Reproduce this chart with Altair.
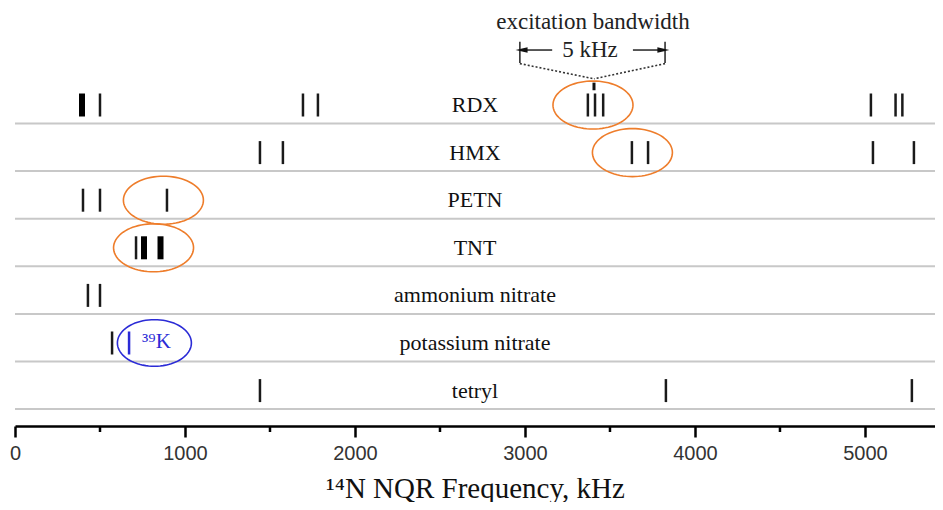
import altair as alt
import numpy as np
import pandas as pd

# ---------------- data ----------------
rows = ["RDX", "HMX", "PETN", "TNT", "ammonium nitrate", "potassium nitrate", "tetryl"]
rdx = [394, 500, 1694, 1782, 3370, 3412, 3460, 5035, 5180, 5220]
hmx = [1441, 1576, 3629, 3724, 5047, 5288]
petn = [400, 500, 894]
tnt = [712, 759, 856]
ammonium_nitrate = [429, 500]
potassium_nitrate = [571, 671]
tetryl = [1441, 3829, 5276]
line_sets = [rdx, hmx, petn, tnt, ammonium_nitrate, potassium_nitrate, tetryl]

strong_lines = {"RDX": [394], "TNT": [759, 856]}
k39_lines = {"potassium nitrate": [671]}

highlight_rows = ["RDX", "HMX", "PETN", "TNT"]
highlight_freq = [3400, 3632, 873, 815]
k39_row = "potassium nitrate"
k39_freq = 820
k39_label_freq = 832

major_ticks = [0, 1000, 2000, 3000, 4000, 5000]
minor_ticks = [500, 1500, 2500, 3500, 4500]

# excitation-bandwidth annotation (kHz / row units)
bw_left, bw_right, bw_target = 2970, 3824, 3406
bw_text_freq = 3400
bw_label_freq = 3382

# ---------------- frames ----------------
recs = []
for i, (name, freqs) in enumerate(zip(rows, line_sets)):
    for f in freqs:
        if f in strong_lines.get(name, []):
            kind = "strong"
        elif f in k39_lines.get(name, []):
            kind = "k39"
        else:
            kind = "normal"
        recs.append({"row": i, "freq": f, "kind": kind})
lines_df = pd.DataFrame(recs)

labels_df = pd.DataFrame({"row": list(range(len(rows))), "name": rows})
sep_df = pd.DataFrame({"row": [i + 0.389 for i in range(len(rows))]})
ell_df = pd.DataFrame({"row": [rows.index(r) for r in highlight_rows], "freq": highlight_freq})
k_df = pd.DataFrame({"row": [rows.index(k39_row)], "freq": [k39_freq]})
ktext_df = pd.DataFrame({"row": [rows.index(k39_row) - 0.03], "freq": [k39_label_freq], "t": ["\u00b3\u2079K"]})
minor_df = pd.DataFrame({"freq": minor_ticks})

bw_text_df = pd.DataFrame({"freq": [bw_text_freq], "row": [-1.744], "t": ["excitation bandwidth"]})
bw_label_df = pd.DataFrame({"freq": [bw_label_freq], "row": [-1.155], "t": ["5 kHz"]})
bracket_df = pd.DataFrame({"freq": [bw_left, bw_right], "row": [-1.33, -1.33], "row2": [-0.88, -0.88]})
arrow_df = pd.DataFrame({"freq": [bw_left + 20, 3635], "freq2": [3160, bw_right - 20],
                         "row": [-1.155, -1.155], "row2": [-1.155, -1.155]})
head_l = pd.DataFrame({"freq": [bw_left + 10], "row": [-1.155]})
head_r = pd.DataFrame({"freq": [bw_right - 10], "row": [-1.155]})
dots_df = pd.DataFrame({"freq": [bw_left, bw_right], "freq2": [bw_target, bw_target],
                        "row": [-0.87, -0.87], "row2": [-0.55, -0.55]})
stub_df = pd.DataFrame({"freq": [bw_target], "row": [-0.47], "row2": [-0.31]})

# ---------------- scales ----------------
W, H = 920, 418
xscale = alt.Scale(domain=[0, 5412], nice=False, zero=False)
yscale = alt.Scale(domain=[-2.038, 6.744], nice=False, zero=False, reverse=True)
xaxis = alt.Axis(values=major_ticks, format="d", title="\u00b9\u2074N NQR Frequency, kHz", grid=False,
                 domainColor="#000", domainWidth=2.5, tickColor="#000", tickWidth=2.5,
                 tickSize=11, labelFont="Liberation Sans", labelFontSize=20, labelColor="#333",
                 labelPadding=6, labelFlush=False, titleFont="Liberation Serif",
                 titleFontSize=29, titleFontWeight="normal", titleColor="#111", titlePadding=11)
X = alt.X("freq:Q", scale=xscale, axis=xaxis)
Y = alt.Y("row:Q", scale=yscale, axis=None)

ink = "#1a1a1a"
orange = "#ee7d2b"
blue = "#2b2bd6"

def ellipse_path(aspect, n=80):
    t = np.linspace(0, 2 * np.pi, n, endpoint=False)
    pts = [f"{np.cos(a):.4f} {aspect * np.sin(a):.4f}" for a in t]
    return "M " + " L ".join(pts) + " Z"

seps = alt.Chart(sep_df).mark_rule(color="#c8c8c8", strokeWidth=2).encode(
    y=alt.Y("row:Q", scale=yscale, axis=None), x=alt.value(0), x2=alt.value(W))

thin = alt.Chart(lines_df).transform_filter("datum.kind == 'normal'").mark_tick(
    orient="vertical", size=23, thickness=2.5, color=ink, opacity=1).encode(x=X, y=Y)
thick = alt.Chart(lines_df).transform_filter("datum.kind == 'strong'").mark_tick(
    orient="vertical", size=23, thickness=6, color="#000", opacity=1).encode(x=X, y=Y)
kline = alt.Chart(lines_df).transform_filter("datum.kind == 'k39'").mark_tick(
    orient="vertical", size=23, thickness=2.5, color=blue, opacity=1).encode(x=X, y=Y)

labels = alt.Chart(labels_df).mark_text(font="Liberation Serif", fontSize=22, color="#111",
                                        align="center", baseline="middle").encode(
    x=alt.value(460), y=Y, text="name:N")

ells = alt.Chart(ell_df).mark_point(shape=ellipse_path(0.6), size=6400, filled=False,
                                    color=orange, strokeWidth=1.6, opacity=1).encode(x=X, y=Y)
kell = alt.Chart(k_df).mark_point(shape=ellipse_path(0.63), size=5476, filled=False,
                                  color=blue, strokeWidth=1.6, opacity=1).encode(x=X, y=Y)
ktext = alt.Chart(ktext_df).mark_text(font="Liberation Serif", fontSize=21, color=blue,
                                      align="center", baseline="middle").encode(x=X, y=Y, text="t:N")

minor = alt.Chart(minor_df).mark_rule(color="#000", strokeWidth=2.5).encode(
    x=X, y=alt.value(H), y2=alt.value(H + 6))

bw_text = alt.Chart(bw_text_df).mark_text(font="Liberation Serif", fontSize=23, color="#222",
                                          align="center", baseline="middle").encode(x=X, y=Y, text="t:N")
bw_label = alt.Chart(bw_label_df).mark_text(font="Liberation Serif", fontSize=23, color="#222",
                                            align="center", baseline="middle").encode(x=X, y=Y, text="t:N")
brackets = alt.Chart(bracket_df).mark_rule(color="#222", strokeWidth=1.5).encode(
    x=X, y=Y, y2=alt.Y2("row2:Q"))
arrows = alt.Chart(arrow_df).mark_rule(color="#222", strokeWidth=1.5).encode(
    x=X, x2=alt.X2("freq2:Q"), y=Y, y2=alt.Y2("row2:Q"))
hl = alt.Chart(head_l).mark_point(shape="M -1 0 L 1 -0.45 L 1 0.45 Z", size=144, filled=True,
                                  color="#111", opacity=1).encode(x=X, y=Y)
hr = alt.Chart(head_r).mark_point(shape="M 1 0 L -1 -0.45 L -1 0.45 Z", size=144, filled=True,
                                  color="#111", opacity=1).encode(x=X, y=Y)
dots = alt.Chart(dots_df).mark_rule(color="#333", strokeWidth=1.6, strokeDash=[2, 2]).encode(
    x=X, x2=alt.X2("freq2:Q"), y=Y, y2=alt.Y2("row2:Q"))
stub = alt.Chart(stub_df).mark_rule(color="#111", strokeWidth=3).encode(
    x=X, y=Y, y2=alt.Y2("row2:Q"))

chart = alt.layer(seps, thin, thick, kline, labels, ells, kell, ktext, minor,
                  bw_text, bw_label, brackets, arrows, hl, hr, dots, stub).properties(
    width=W, height=H,
    autosize=alt.AutoSizeParams(type="none"),
    padding={"left": 7, "top": 0, "right": 0, "bottom": 76},
    background="white",
).configure_view(stroke=None)

chart.save("out.html", embed_options={"renderer": "svg", "actions": False})
